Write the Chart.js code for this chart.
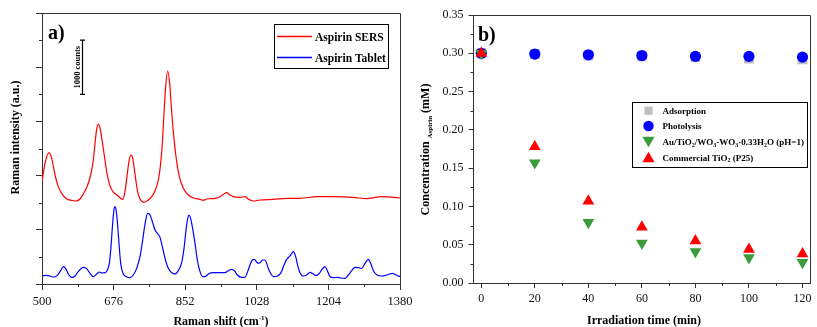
<!DOCTYPE html>
<html><head><meta charset="utf-8">
<script src="https://cdn.jsdelivr.net/npm/chart.js@4"></script>
<style>
html,body{margin:0;padding:0;background:#fff;}
#wrap{position:relative;width:817px;height:327px;overflow:hidden;background:#fff;}
#ca{position:absolute;left:0;top:0;width:430px;height:327px;}
#cb{position:absolute;left:410px;top:0;width:407px;height:327px;}
</style></head><body>
<div id="wrap"><canvas id="ca" width="430" height="327"></canvas><canvas id="cb" width="407" height="327"></canvas></div>
<script>
// ---------- Panel a) data (Raman shift in cm-1, intensity in counts, arbitrary offset) ----------
const sersShift = [500,507.4,517.2,523.8,532,540.1,548.3,560.6,572.9,583.6,593.4,601.6,611.4,619.6,626.2,630.3,634.4,638.5,642.6,647.5,652.4,659,667.2,675.3,685.2,693.4,698.3,704,709.8,714.7,718.8,722.9,727.8,734.3,740.9,750.7,761.4,769.6,777.8,786,791.7,795.8,799.9,804,808.9,813.8,817.9,822.8,829.4,837.6,847.4,859.7,872,888.4,896.6,904.8,914.6,925.3,937.5,947.4,953.9,962.1,970.3,986.7,999,1007.2,1019.5,1035.9,1068.7,1101.4,1134.2,1175.2,1216.1,1265.3,1298.1,1335,1380];
const sersIntensity = [1888,2226,2423,2319,2011,1796,1673,1568,1544,1531,1568,1661,1808,2011,2288,2595,2854,2952,2878,2657,2411,2073,1808,1697,1636,1581,1562,1704,2042,2300,2380,2325,2073,1734,1568,1507,1550,1611,1722,1919,2226,2595,3149,3641,3930,3702,3272,2811,2349,1980,1765,1642,1587,1562,1544,1568,1574,1581,1611,1661,1685,1642,1611,1599,1611,1568,1531,1550,1562,1581,1581,1611,1611,1599,1574,1611,1587];
const tabletShift = [500,511.5,519.7,527.9,537.7,545.9,552.4,558.2,564.7,572.9,581.1,590.9,601.6,609.8,618,626.2,634.4,640.9,647.5,655.7,660.6,665.5,669.6,673.7,677,679.4,681.9,685.2,689.3,693.4,699.9,708.1,716.3,724.5,732.7,740.9,747.5,753.2,759.8,765.5,772,777.8,783.5,790.1,795.8,802.4,810.5,818.7,826.9,835.1,843.3,849.1,854,858.1,861.4,864.6,869.5,876.1,881.8,888.4,895,900.7,908.9,921.2,937.5,949.8,958,966.2,972.8,980.2,990.8,999,1005.5,1011.3,1017,1021.8,1027.6,1032.5,1037.5,1042.4,1048.1,1052.3,1057.2,1062.9,1068.7,1078.5,1087.5,1094.9,1101.4,1109.6,1117.8,1123.6,1129.3,1134.2,1142.4,1150.6,1158.8,1167,1173.6,1181.9,1188.3,1195.7,1201.4,1208,1216.1,1226,1234.2,1244.9,1253.1,1261.3,1269.4,1277.6,1285.8,1294,1302.2,1307.9,1314.5,1322.7,1335,1347.3,1362,1370.2,1380];
const tabletIntensity = [148,160,148,129,160,246,320,283,185,123,148,246,308,283,197,135,185,221,203,209,258,381,689,1119,1378,1427,1378,1150,750,381,185,135,117,166,289,504,812,1107,1304,1273,1132,996,935,861,689,474,289,209,185,246,394,658,996,1212,1273,1230,1058,750,443,228,135,135,185,209,209,209,246,271,246,166,123,123,228,351,443,455,406,381,406,443,443,381,271,185,135,148,209,351,455,517,597,504,320,209,148,166,215,185,154,197,271,320,246,135,117,123,111,105,166,246,308,301,289,381,455,381,246,172,148,166,197,166,135];
const ramanMajorTicks = [500,676,852,1028,1204,1380];
const ramanMinorTicks = [588,764,940,1116,1292];
const intensityMajorTicks = [0,1000,2000,3000,4000,5000];
const intensityMinorTicks = [500,1500,2500,3500,4500];
const seriesA = ['Aspirin SERS','Aspirin Tablet'];

// ---------- Panel b) data ----------
const timeMin = [0,20,40,60,80,100,120];
const adsorption = [0.300,0.299,0.297,0.296,0.295,0.293,0.292];
const photolysis = [0.300,0.299,0.298,0.297,0.296,0.296,0.295];
const auTiO2WO3 = [0.300,0.157,0.079,0.052,0.041,0.033,0.027];
const commercialP25 = [0.300,0.178,0.107,0.073,0.055,0.044,0.038];
const timeMajorTicks = [0,20,40,60,80,100,120];
const timeMinorTicks = [10,30,50,70,90,110];
const concMajorTicks = [0,0.05,0.10,0.15,0.20,0.25,0.30,0.35];
const concMinorTicks = [0.025,0.075,0.125,0.175,0.225,0.275,0.325];

const SERIF = '"Liberation Serif", "Times New Roman", serif';
const AXIS = '#333';

function rich(ctx, segs, x, y, size, align) {
  const f = k => 'bold ' + (k === 'n' ? size : Math.round(size * 0.62)) + 'px ' + SERIF;
  let w = 0;
  segs.forEach(([t, k]) => { ctx.font = f(k); w += ctx.measureText(t).width; });
  let cx = align === 'center' ? x - w / 2 : x;
  ctx.textAlign = 'left'; ctx.textBaseline = 'alphabetic';
  segs.forEach(([t, k]) => {
    ctx.font = f(k);
    const dy = k === 'sub' ? size * 0.22 : (k === 'sup' ? -size * 0.38 : 0);
    ctx.fillText(t, cx, y + dy);
    cx += ctx.measureText(t).width;
  });
}
function minorTicks(chart, id, values, len) {
  const s = chart.scales[id], ctx = chart.ctx;
  ctx.save(); ctx.strokeStyle = AXIS; ctx.lineWidth = 1; ctx.beginPath();
  values.forEach(v => {
    const p = Math.round(s.getPixelForValue(v)) + 0.5;
    if (s.isHorizontal()) { ctx.moveTo(p, s.top); ctx.lineTo(p, s.top + len); }
    else { ctx.moveTo(s.right, p); ctx.lineTo(s.right - len, p); }
  });
  ctx.stroke(); ctx.restore();
}
function frame(chart) {
  const a = chart.chartArea, ctx = chart.ctx;
  ctx.save(); ctx.strokeStyle = AXIS; ctx.lineWidth = 1; ctx.beginPath();
  ctx.moveTo(a.left, Math.round(a.top) + 0.5);
  ctx.lineTo(Math.round(a.right) + 0.5, Math.round(a.top) + 0.5);
  ctx.lineTo(Math.round(a.right) + 0.5, a.bottom);
  ctx.stroke(); ctx.restore();
}
function marker(ctx, style, r, x, y, rot) {
  ctx.beginPath();
  if (style === 'circle') { ctx.arc(x, y, r, 0, Math.PI * 2); }
  else if (style === 'rect') { const s = Math.SQRT1_2 * r; ctx.rect(x - s, y - s, 2 * s, 2 * s); }
  else {
    let a = (rot || 0) * Math.PI / 180;
    ctx.moveTo(x + Math.sin(a) * r, y - Math.cos(a) * r);
    for (let i = 0; i < 2; i++) { a += 2 * Math.PI / 3; ctx.lineTo(x + Math.sin(a) * r, y - Math.cos(a) * r); }
    ctx.closePath();
  }
  ctx.fill();
}

// ---------------- Chart a ----------------
const decoA = {
  id: 'decoA',
  afterDraw(chart) {
    const ctx = chart.ctx, xs = chart.scales.x, ys = chart.scales.y;
    minorTicks(chart, 'x', ramanMinorTicks, 3);
    minorTicks(chart, 'y', intensityMinorTicks, 3);
    frame(chart);
    ctx.save();
    ctx.fillStyle = '#000';
    ctx.font = 'bold 20px ' + SERIF; ctx.textAlign = 'left'; ctx.textBaseline = 'alphabetic';
    ctx.fillText('a)', 48, 39);
    // scale bar: 1000 counts
    const bx = Math.round(xs.getPixelForValue(598)) + 0.5;
    const y1 = ys.getPixelForValue(4500), y2 = ys.getPixelForValue(3500);
    ctx.strokeStyle = '#000'; ctx.lineWidth = 1.2; ctx.beginPath();
    ctx.moveTo(bx, y1); ctx.lineTo(bx, y2);
    ctx.moveTo(bx - 2.5, y1); ctx.lineTo(bx + 2.5, y1);
    ctx.moveTo(bx - 2.5, y2); ctx.lineTo(bx + 2.5, y2);
    ctx.stroke();
    ctx.save(); ctx.translate(bx - 2.5, (y1 + y2) / 2); ctx.rotate(-Math.PI / 2);
    ctx.font = 'bold 8.5px ' + SERIF; ctx.textAlign = 'center'; ctx.textBaseline = 'alphabetic';
    ctx.fillText('1000 counts', 0, 0); ctx.restore();
    // legend
    ctx.strokeStyle = '#000'; ctx.lineWidth = 1; ctx.strokeRect(274.5, 24.5, 114, 44);
    const cols = ['#ff0000', '#0000ff'], ly = [36.5, 57.5];
    for (let i = 0; i < 2; i++) {
      ctx.strokeStyle = cols[i]; ctx.lineWidth = 1.4; ctx.beginPath();
      ctx.moveTo(277, ly[i]); ctx.lineTo(312, ly[i]); ctx.stroke();
      ctx.fillStyle = '#000';
      rich(ctx, [[seriesA[i], 'n']], 315, ly[i] + 4.3, 11.5, 'left');
    }
    // axis titles
    rich(ctx, [['Raman shift (cm', 'n'], ['-1', 'sup'], [')', 'n']], 221, 325, 12, 'center');
    ctx.save(); ctx.translate(19, 137.5); ctx.rotate(-Math.PI / 2);
    rich(ctx, [['Raman intensity (a.u.)', 'n']], 0, 0, 12, 'center');
    ctx.restore();
    ctx.restore();
  }
};

new Chart(document.getElementById('ca'), {
  type: 'line',
  data: {
    datasets: [
      { label: seriesA[0], data: sersShift.map((x, i) => ({ x, y: sersIntensity[i] })), borderColor: '#ff0000', borderWidth: 1.2, pointRadius: 0, cubicInterpolationMode: 'monotone', fill: false },
      { label: seriesA[1], data: tabletShift.map((x, i) => ({ x, y: tabletIntensity[i] })), borderColor: '#0000ff', borderWidth: 1.2, pointRadius: 0, cubicInterpolationMode: 'monotone', fill: false }
    ]
  },
  options: {
    responsive: false, animation: false, devicePixelRatio: 1,
    layout: { padding: { top: 13, right: 30, left: 0, bottom: 0 } },
    plugins: { legend: { display: false }, tooltip: { enabled: false } },
    scales: {
      x: {
        type: 'linear', min: 500, max: 1380,
        afterBuildTicks: s => { s.ticks = ramanMajorTicks.map(v => ({ value: v })); },
        afterFit: s => { s.height = 43; },
        grid: { drawOnChartArea: false, tickLength: 6, tickColor: AXIS },
        border: { color: AXIS, width: 1 },
        ticks: { autoSkip: false, maxRotation: 0, padding: 4, color: '#111', font: { family: SERIF, size: 12.5 }, callback: v => String(v) }
      },
      y: {
        type: 'linear', min: 0, max: 5000,
        afterBuildTicks: s => { s.ticks = intensityMajorTicks.map(v => ({ value: v })); },
        afterFit: s => { s.width = 42; },
        grid: { drawOnChartArea: false, tickLength: 6, tickColor: AXIS },
        border: { color: AXIS, width: 1 },
        ticks: { display: false }
      }
    }
  },
  plugins: [decoA]
});

// ---------------- Chart b ----------------
const legendB = [
  { segs: [['Adsorption', 'n']], style: 'rect', r: 5.8, color: '#c0c0c0', rot: 0 },
  { segs: [['Photolysis', 'n']], style: 'circle', r: 5.2, color: '#0000ff', rot: 0 },
  { segs: [['Au/TiO', 'n'], ['2', 'sub'], ['/WO', 'n'], ['3', 'sub'], ['-WO', 'n'], ['3', 'sub'], ['·0.33H', 'n'], ['2', 'sub'], ['O (pH=1)', 'n']], style: 'triangle', r: 7, color: '#3c9c3c', rot: 180 },
  { segs: [['Commercial TiO', 'n'], ['2', 'sub'], [' (P25)', 'n']], style: 'triangle', r: 7, color: '#ff0000', rot: 0 }
];
const decoB = {
  id: 'decoB',
  afterDraw(chart) {
    const ctx = chart.ctx;
    minorTicks(chart, 'x', timeMinorTicks, 3);
    minorTicks(chart, 'y', concMinorTicks, 3);
    frame(chart);
    ctx.save();
    ctx.fillStyle = '#000';
    ctx.font = 'bold 20px ' + SERIF; ctx.textAlign = 'left'; ctx.textBaseline = 'alphabetic';
    ctx.fillText('b)', 68, 41);
    ctx.strokeStyle = '#000'; ctx.lineWidth = 1; ctx.strokeRect(222.5, 102.5, 175, 65);
    const ly = [110.7, 126, 141.7, 157.3];
    legendB.forEach((e, i) => {
      ctx.fillStyle = e.color;
      marker(ctx, e.style, e.r, 238.5, ly[i] + (e.style === 'triangle' ? (e.rot ? -1.5 : 1.5) : 0), e.rot);
      ctx.fillStyle = '#000';
      rich(ctx, e.segs, 252.5, ly[i] + 3.2, 9, 'left');
    });
    rich(ctx, [['Irradiation time (min)', 'n']], 234, 324, 12, 'center');
    ctx.save(); ctx.translate(19, 149.5); ctx.rotate(-Math.PI / 2);
    rich(ctx, [['Concentration ', 'n'], ['Aspirin', 'sub'], [' (mM)', 'n']], 0, 0, 12, 'center');
    ctx.restore();
    ctx.restore();
  }
};

const pts = arr => timeMin.map((t, i) => ({ x: t, y: arr[i] }));
new Chart(document.getElementById('cb'), {
  type: 'scatter',
  data: {
    datasets: [
      { label: 'Adsorption', data: pts(adsorption), pointStyle: 'rect', pointRadius: 7, backgroundColor: '#c0c0c0', borderWidth: 0, order: 3 },
      { label: 'Photolysis', data: pts(photolysis), pointStyle: 'circle', pointRadius: 5.6, backgroundColor: '#0000ff', borderWidth: 0, order: 2 },
      { label: 'Au/TiO₂/WO₃-WO₃·0.33H₂O (pH=1)', data: pts(auTiO2WO3), pointStyle: 'triangle', rotation: 180, pointRadius: 6.8, backgroundColor: '#3c9c3c', borderWidth: 0, order: 1 },
      { label: 'Commercial TiO₂ (P25)', data: pts(commercialP25), pointStyle: 'triangle', pointRadius: 6.8, backgroundColor: '#ff0000', borderWidth: 0, order: 0 }
    ]
  },
  options: {
    responsive: false, animation: false, devicePixelRatio: 1,
    layout: { padding: { top: 15, right: 3, left: 0, bottom: 0 } },
    plugins: { legend: { display: false }, tooltip: { enabled: false } },
    scales: {
      x: {
        type: 'linear', min: -2.9, max: 122.8,
        afterBuildTicks: s => { s.ticks = timeMajorTicks.map(v => ({ value: v })); },
        afterFit: s => { s.height = 44; },
        grid: { drawOnChartArea: false, tickLength: 5, tickColor: AXIS },
        border: { color: AXIS, width: 1 },
        ticks: { autoSkip: false, maxRotation: 0, padding: 4, color: '#111', font: { family: SERIF, size: 12 }, callback: v => String(v) }
      },
      y: {
        type: 'linear', min: 0, max: 0.35,
        afterBuildTicks: s => { s.ticks = concMajorTicks.map(v => ({ value: v })); },
        afterFit: s => { s.width = 63.5; },
        grid: { drawOnChartArea: false, tickLength: 5, tickColor: AXIS },
        border: { color: AXIS, width: 1 },
        ticks: { padding: 5, color: '#111', font: { family: SERIF, size: 12 }, callback: v => Number(v).toFixed(2) }
      }
    }
  },
  plugins: [decoB]
});
</script>
</body></html>
